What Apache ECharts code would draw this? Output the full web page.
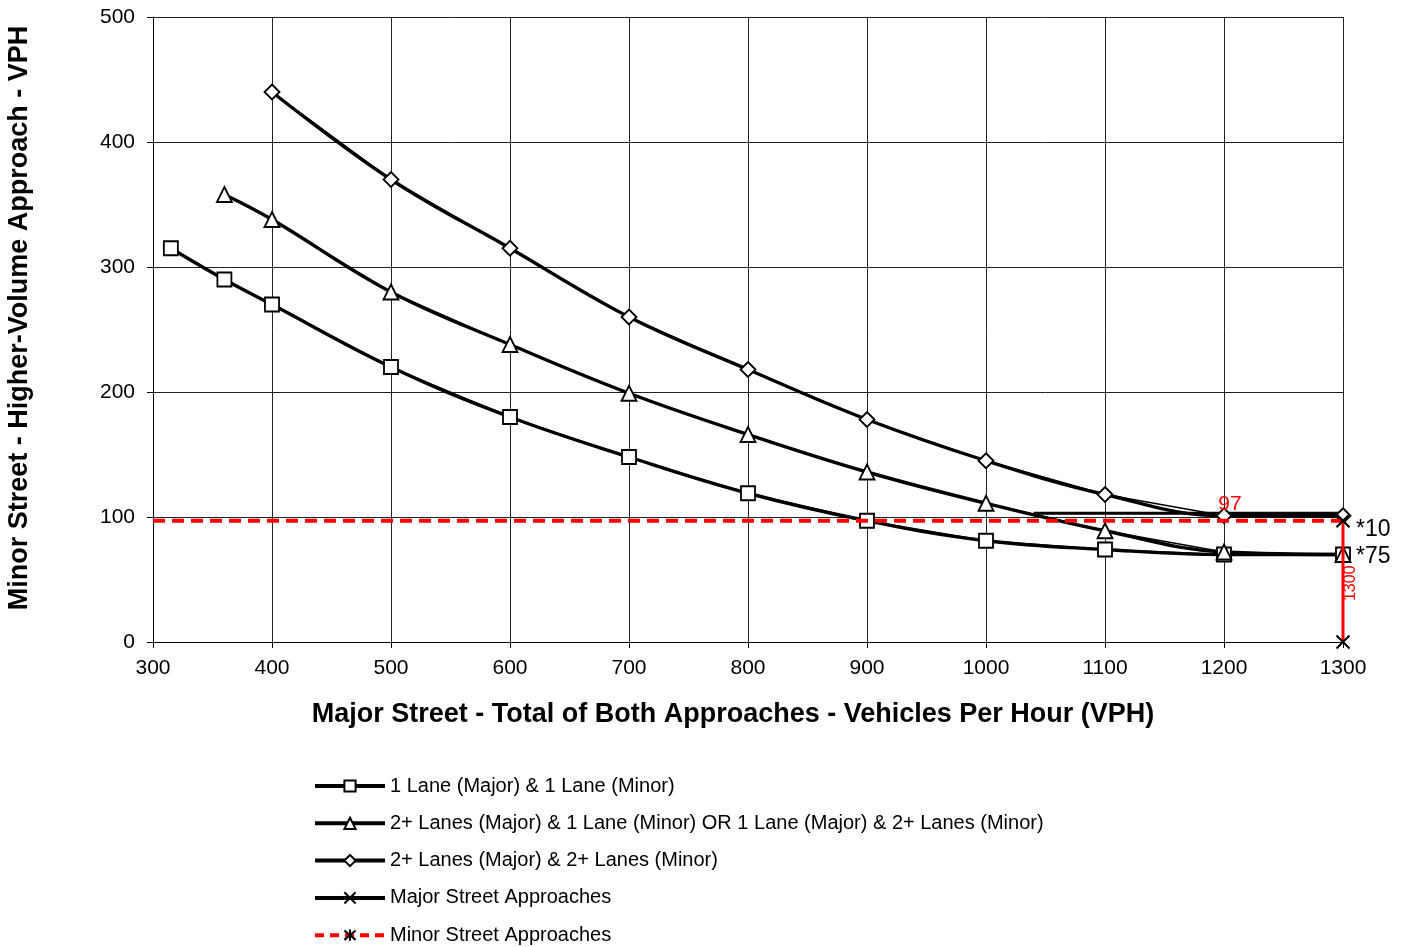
<!DOCTYPE html>
<html>
<head>
<meta charset="utf-8">
<script src="https://cdn.jsdelivr.net/npm/echarts@6/dist/echarts.min.js"></script>
<style>
  html, body { margin: 0; padding: 0; background: #fff; }
  #chart { width: 1411px; height: 947px; }
</style>
</head>
<body>
<div id="chart"></div>
<script>
// Warrant curves: minor-street higher-volume approach vs. major-street total volume (VPH)
const xTicks = [300, 400, 500, 600, 700, 800, 900, 1000, 1100, 1200, 1300];
const yTicks = [0, 100, 200, 300, 400, 500];

const oneLaneX = [315, 360, 400, 500, 600, 700, 800, 900, 1000, 1100, 1200, 1300];
const oneLaneY = [315, 290, 270, 220, 180, 148, 119, 97, 81, 74, 70, 70];

const mixedLaneX = [360, 400, 500, 600, 700, 800, 900, 1000, 1100, 1200, 1300];
const mixedLaneY = [358, 338, 280, 238, 199, 166, 136, 111, 89, 72, 70];

const twoLaneX = [400, 500, 600, 700, 800, 900, 1000, 1100, 1200, 1300];
const twoLaneY = [440, 370, 315, 260, 218, 178, 145, 118, 101, 101];

const majorApproachX = [1300, 1300];
const majorApproachY = [0, 97];

const minorApproachX = [300, 1300];
const minorApproachY = [97, 97];

const upperLimitX = [1040, 1300];
const upperLimitY = [103, 103];

const names = [
  '1 Lane (Major) & 1 Lane (Minor)',
  '2+ Lanes (Major) & 1 Lane (Minor) OR 1 Lane (Major) & 2+ Lanes (Minor)',
  '2+ Lanes (Major) & 2+ Lanes (Minor)',
  'Major Street Approaches',
  'Minor Street Approaches'
];

const FONT = 'Liberation Sans, Arial, sans-serif';
const X_SYMBOL = 'path://M0,0L10,10M0,10L10,0';
const STAR_SYMBOL = 'path://M0,0L10,10M0,10L10,0M5,-1L5,11';

const zip = (xs, ys) => xs.map((x, i) => [x, ys[i]]);

// each curve: thin straight segments with markers over a thick smoothed stroke
function curve(name, xs, ys, symbol, size) {
  return [
    {
      name, type: 'line', data: zip(xs, ys), z: 4,
      symbol, symbolSize: size,
      lineStyle: { color: '#000', width: 1.3 },
      itemStyle: { color: '#fff', borderColor: '#000', borderWidth: 1.8 }
    },
    {
      name, type: 'line', data: zip(xs, ys), z: 3, smooth: 0.4,
      symbol: 'none', showSymbol: false,
      lineStyle: { color: '#000', width: 3.4 }
    }
  ];
}

const chart = echarts.init(document.getElementById('chart'), null, { renderer: 'canvas' });

const option = {
  backgroundColor: '#fff',
  animation: false,
  grid: { left: 153, right: 68, top: 17, bottom: 305, containLabel: false },
  xAxis: {
    type: 'value', min: 300, max: 1300, interval: 100,
    axisLine: { show: true, lineStyle: { color: '#000', width: 1 } },
    axisTick: { show: true, length: 6, lineStyle: { color: '#000' } },
    axisLabel: { fontFamily: FONT, fontSize: 21, color: '#000', margin: 16, formatter: v => String(v) },
    splitLine: { show: true, lineStyle: { color: '#222', width: 1 } }
  },
  yAxis: {
    type: 'value', min: 0, max: 500, interval: 100,
    axisLine: { show: true, lineStyle: { color: '#000', width: 1 } },
    axisTick: { show: true, length: 6, lineStyle: { color: '#000' } },
    axisLabel: { fontFamily: FONT, fontSize: 21, color: '#000', margin: 18, formatter: v => String(v) },
    splitLine: { show: true, lineStyle: { color: '#222', width: 1 } }
  },
  legend: {
    orient: 'vertical', left: 313, top: 775, padding: 0,
    itemWidth: 70, itemHeight: 14, itemGap: 15.3,
    textStyle: { fontFamily: FONT, fontSize: 20, color: '#000', lineHeight: 22 },
    data: [
      { name: names[0], lineStyle: { color: '#000', width: 4 } },
      { name: names[1], lineStyle: { color: '#000', width: 4 } },
      { name: names[2], lineStyle: { color: '#000', width: 4 } },
      { name: names[3], lineStyle: { color: '#000', width: 4 } },
      { name: names[4], lineStyle: { color: '#ff0000', width: 4, type: [9, 6] } }
    ]
  },
  series: [
    ...curve(names[0], oneLaneX, oneLaneY, 'rect', 14),
    ...curve(names[1], mixedLaneX, mixedLaneY, 'triangle', 15),
    ...curve(names[2], twoLaneX, twoLaneY, 'diamond', 15),
    {
      name: 'upper', type: 'line', data: zip(upperLimitX, upperLimitY), z: 2,
      symbol: 'none', lineStyle: { color: '#000', width: 3 }
    },
    {
      name: names[4], type: 'line', data: zip(minorApproachX, minorApproachY), z: 5,
      symbol: STAR_SYMBOL, showSymbol: false, symbolSize: 12,
      lineStyle: { color: '#ff0000', width: 4, type: [12, 7] },
      itemStyle: { color: '#000', borderColor: '#000', borderWidth: 2 }
    },
    {
      name: names[3], type: 'line', data: zip(majorApproachX, majorApproachY), z: 6,
      symbol: X_SYMBOL, symbolSize: 13,
      lineStyle: { color: '#ff0000', width: 3 },
      itemStyle: { color: '#000', borderColor: '#000', borderWidth: 2 }
    }
  ]
};

chart.setOption(option);

const px = (x, y) => chart.convertToPixel({ gridIndex: 0 }, [x, y]);
const pLabel97 = px(1205, minorApproachY[0]);
const pEnd2 = px(1300, twoLaneY[twoLaneY.length - 1]);
const pEnd1 = px(1300, oneLaneY[oneLaneY.length - 1]);
const pVert = px(1300, 47);

chart.setOption({
  graphic: [
    {
      type: 'text', x: 733, y: 715,
      style: {
        text: 'Major Street - Total of Both Approaches - Vehicles Per Hour (VPH)',
        fontFamily: FONT, fontSize: 27, fontWeight: 'bold', fill: '#000',
        align: 'center', verticalAlign: 'middle'
      }
    },
    {
      type: 'text', x: 20, y: 318, rotation: Math.PI / 2,
      style: {
        text: 'Minor Street - Higher-Volume Approach - VPH',
        fontFamily: FONT, fontSize: 27, fontWeight: 'bold', fill: '#000',
        align: 'center', verticalAlign: 'middle'
      }
    },
    {
      type: 'text', x: pLabel97[0], y: pLabel97[1] - 17, z: 10,
      style: {
        text: String(minorApproachY[0]), fontFamily: FONT, fontSize: 21, fill: '#ff0000',
        align: 'center', verticalAlign: 'middle'
      }
    },
    {
      type: 'text', x: pEnd2[0] + 13, y: pEnd2[1] + 14, z: 10,
      style: {
        text: '*10', fontFamily: FONT, fontSize: 23, fill: '#000',
        align: 'left', verticalAlign: 'middle'
      }
    },
    {
      type: 'text', x: pEnd1[0] + 13, y: pEnd1[1] + 2, z: 10,
      style: {
        text: '*75', fontFamily: FONT, fontSize: 23, fill: '#000',
        align: 'left', verticalAlign: 'middle'
      }
    },
    {
      type: 'text', x: pVert[0] + 8, y: pVert[1], rotation: Math.PI / 2, z: 10,
      style: {
        text: '1300', fontFamily: FONT, fontSize: 16, fill: '#ff0000',
        align: 'center', verticalAlign: 'middle'
      }
    }
  ]
});
</script>
</body>
</html>
